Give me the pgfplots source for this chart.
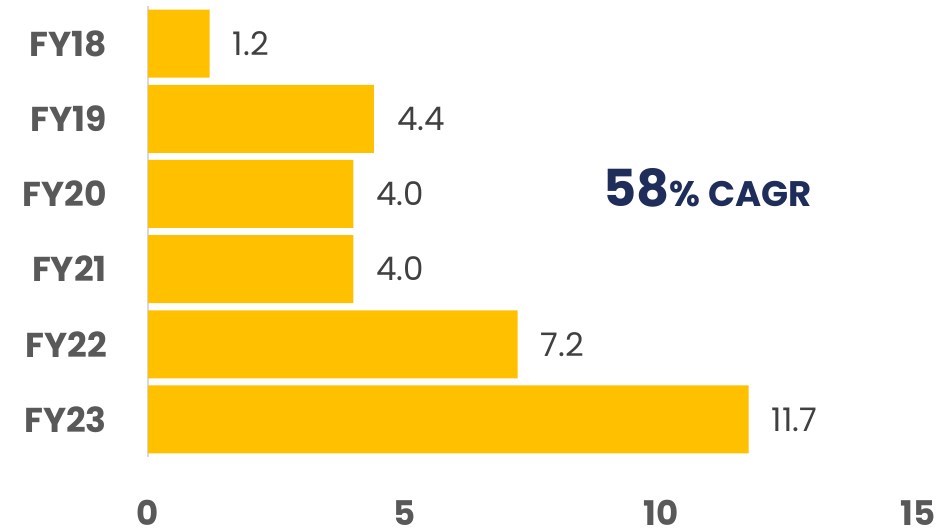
\documentclass[border=0pt]{standalone}
\usepackage{pgfplots}
\pgfplotsset{compat=1.18}
\usepackage{fontspec}
\setmainfont{Poppins}
\definecolor{barc}{HTML}{FFC000}
\definecolor{txt}{HTML}{595959}
\definecolor{vtxt}{HTML}{404040}
\definecolor{navy}{HTML}{1F2D5A}
\definecolor{axl}{HTML}{D9D9D9}
\begin{document}
\begin{tikzpicture}[x=1pt,y=1pt]
\useasboundingbox (0,0) rectangle (938,528);
\clip (0,0) rectangle (938,528);
\begin{axis}[
  at={(148pt,71pt)}, anchor=south west,
  scale only axis, width=770pt, height=451pt,
  xmin=0, xmax=15, ymin=-0.5, ymax=5.5, y dir=reverse,
  xbar, bar width=68pt, bar shift=0pt,
  axis x line*=bottom, axis y line*=left,
  x axis line style={draw=none},
  y axis line style={draw=axl, line width=1.2pt},
  major tick length=0pt, tick style={draw=none},
  xtick={0,5,10,15},
  ytick={0,1,2,3,4,5},
  yticklabels={FY18,FY19,FY20,FY21,FY22,FY23},
  /pgf/number format/assume math mode=true,
  xticklabel style={font=\bfseries\fontsize{34}{34}\selectfont, text=txt, anchor=north, inner sep=0pt, yshift=-43pt},
  yticklabel style={font=\bfseries\fontsize{34.5}{34.5}\selectfont, text=txt, anchor=east, inner sep=0pt, xshift=-41pt},
  nodes near coords={\pgfmathprintnumber[fixed,fixed zerofill,precision=1,assume math mode=true]{\pgfplotspointmeta}},
  every node near coord/.append style={font=\fontsize{32.5}{32.5}\selectfont, text=vtxt, anchor=west, inner sep=0pt, xshift=23pt},
]
\addplot[fill=barc, draw=none] coordinates {(1.2,0) (4.4,1) (4.0,2) (4.0,3) (7.2,4) (11.7,5)};
\node[anchor=base west, text=navy, font=\bfseries, inner sep=0pt] at (axis cs:8.87,2.17)
  {{\fontsize{51}{51}\selectfont 58}{\fontsize{35.5}{35.5}\selectfont\%~CAGR}};
\end{axis}
\end{tikzpicture}
\end{document}
